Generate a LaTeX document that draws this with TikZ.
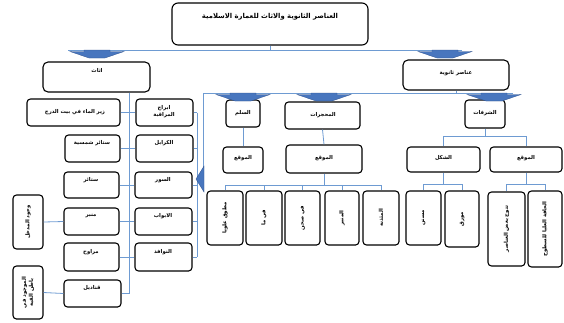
\documentclass[tikz,border=0pt]{standalone}
\usepackage{fontspec}
\newfontfamily\arfont[Script=Arabic]{DejaVu Sans}
\TeXXeTstate=1
\newcommand\AR[1]{\beginR #1\endR}
\definecolor{linec}{RGB}{110,155,210}
\definecolor{arrf}{RGB}{72,118,190}
\definecolor{arrd}{RGB}{45,80,140}
\tikzset{
 bx/.style={draw=black, line width=1.1pt, rounded corners=3.5pt, fill=white, inner sep=0pt},
 txt/.style={font=\arfont\bfseries\fontsize{5.3}{6.8}\selectfont, inner sep=0pt, align=center},
 con/.style={draw=linec, line width=0.8pt},
 arr/.style={fill=arrf, draw=arrd, line width=0.3pt},
}
\newcommand\DnArrow[2]{\begin{scope}[shift={(#1,#2)}]\filldraw[arr] (-13,0) -- (13,0) -- (13,1.5) -- (27,1.5) -- (8,8) -- (-8,8) -- (-27,1.5) -- (-13,1.5) -- cycle;\end{scope}}
\begin{document}
\begin{tikzpicture}[x=1pt,y=-1pt]
\useasboundingbox (0,0) rectangle (564,322);
% ---------- boxes ----------
\node[bx, minimum width=196pt, minimum height=42pt, rounded corners=6pt] (title) at (270,24) {};
\node[txt, font=\arfont\bfseries\fontsize{6.8}{8}\selectfont] (title-t) at (270,17) {\AR{العناصر الثانوية والاثاث للعمارة الاسلامية}};

\node[bx, minimum width=107pt, minimum height=30pt, rounded corners=5pt] (athath) at (96.5,77) {};
\node[txt] (athath-t) at (97,70) {\AR{اثاث}};
\node[bx, minimum width=106pt, minimum height=30pt, rounded corners=5pt] (anasir) at (456,75) {};
\node[txt] (anasir-t) at (456,73) {\AR{عناصر ثانوية}};

% left furniture column
\node[bx, minimum width=93pt, minimum height=27pt] (zir) at (73.5,112.5) {};
\node[txt] (zir-t) at (75,112) {\AR{زير الماء في بيت الدرج}};
\node[bx, minimum width=55pt, minimum height=27pt] (satsh) at (92.5,148.5) {};
\node[txt] (satsh-t) at (92,143) {\AR{ستائر شمسية}};
\node[bx, minimum width=55pt, minimum height=26pt] (satair) at (91.5,185) {};
\node[txt] (satair-t) at (91,180) {\AR{ستائر}};
\node[bx, minimum width=55pt, minimum height=27pt] (minbar) at (91.5,221.5) {};
\node[txt] (minbar-t) at (91,216) {\AR{منبر}};
\node[bx, minimum width=55pt, minimum height=28pt] (marawih) at (91.5,257) {};
\node[txt] (marawih-t) at (91,252) {\AR{مراوح}};
\node[bx, minimum width=57pt, minimum height=27pt] (qanadil) at (92.5,293.5) {};
\node[txt] (qanadil-t) at (92,288) {\AR{قناديل}};
\node[bx, minimum width=30pt, minimum height=54pt] (madkhal) at (28,222) {};
\node[txt, rotate=90] (madkhal-t) at (28,222) {\AR{وجود المدخل}};
\node[bx, minimum width=30pt, minimum height=53pt] (qubba) at (28,292.5) {};
\node[txt, rotate=90] (qubba-t) at (28,292.5) {\AR{الموجود في}\\\AR{باطن القبة}};

% middle column
\node[bx, minimum width=57pt, minimum height=27pt] (abraj) at (164.5,112.5) {};
\node[txt] (abraj-t) at (164,112) {\AR{ابراج}\\\AR{المراقبة}};
\node[bx, minimum width=57pt, minimum height=27pt] (karabil) at (164.5,148.5) {};
\node[txt] (karabil-t) at (164,143) {\AR{الكرابل}};
\node[bx, minimum width=57pt, minimum height=26pt] (sour) at (163.5,185) {};
\node[txt] (sour-t) at (163,180) {\AR{السور}};
\node[bx, minimum width=57pt, minimum height=27pt] (abwab) at (163.5,221.5) {};
\node[txt] (abwab-t) at (163,216) {\AR{الابواب}};
\node[bx, minimum width=57pt, minimum height=28pt] (nawafidh) at (163.5,257) {};
\node[txt] (nawafidh-t) at (163,252) {\AR{النوافذ}};

% right part
\node[bx, minimum width=34pt, minimum height=27pt] (sullam) at (243,113.5) {};
\node[txt] (sullam-t) at (243,113) {\AR{السلم}};
\node[bx, minimum width=75pt, minimum height=27pt] (mahjarat) at (322.5,115.5) {};
\node[txt] (mahjarat-t) at (323,115) {\AR{المحجرات}};
\node[bx, minimum width=40pt, minimum height=26pt] (mawqia) at (243,160) {};
\node[txt] (mawqia-t) at (243,158) {\AR{الموقع}};
\node[bx, minimum width=76pt, minimum height=28pt] (mawqib) at (324,159) {};
\node[txt] (mawqib-t) at (324,158) {\AR{الموقع}};

\node[bx, minimum width=36pt, minimum height=54pt] (v1) at (225,218) {};
\node[txt, rotate=90] (v1-t) at (225,218) {\AR{مطوق علويا}};
\node[bx, minimum width=36pt, minimum height=54pt] (v2) at (264,218) {};
\node[txt, rotate=90] (v2-t) at (264,218) {\AR{في ما}};
\node[bx, minimum width=35pt, minimum height=54pt] (v3) at (302.5,218) {};
\node[txt, rotate=90] (v3-t) at (302.5,218) {\AR{في صحن}};
\node[bx, minimum width=34pt, minimum height=54pt] (v4) at (342,218) {};
\node[txt, rotate=90] (v4-t) at (342,218) {\AR{المنبر}};
\node[bx, minimum width=36pt, minimum height=54pt] (v5) at (381,218) {};
\node[txt, rotate=90] (v5-t) at (381,218) {\AR{المئذنة}};

\node[bx, minimum width=40pt, minimum height=28pt] (shurufat) at (485,114) {};
\node[txt] (shurufat-t) at (485,113) {\AR{الشرفات}};
\node[bx, minimum width=73pt, minimum height=25pt] (shakl) at (443.5,159.5) {};
\node[txt] (shakl-t) at (443.5,158) {\AR{الشكل}};
\node[bx, minimum width=72pt, minimum height=25pt] (mawqic) at (526,159.5) {};
\node[txt] (mawqic-t) at (526,158) {\AR{الموقع}};
\node[bx, minimum width=35pt, minimum height=54pt] (musannan) at (423.5,218) {};
\node[txt, rotate=90] (musannan-t) at (423.5,218) {\AR{مسنن}};
\node[bx, minimum width=34pt, minimum height=56pt] (muwarraq) at (462,219) {};
\node[txt, rotate=90] (muwarraq-t) at (462,219) {\AR{مورق}};
\node[bx, minimum width=37pt, minimum height=74pt] (tatawwaj) at (506.5,229) {};
\node[txt, rotate=90] (tatawwaj-t) at (506.5,229) {\AR{تتوج بعض العناصر}};
\node[bx, minimum width=34pt, minimum height=76pt] (hafa) at (545,229) {};
\node[txt, rotate=90] (hafa-t) at (545,229) {\AR{الحافة العليا للسطوح}};

% ---------- connectors ----------
\coordinate (hL) at (68,50);
\coordinate (hR) at (462,50);
\draw[con] (title.south) -- (title.south |- hL);
\draw[con] (hL) -- (hR);

\coordinate (aBot) at (129,293.5);
\draw[con] (athath.south -| aBot) -- (aBot);
\draw[con] (zir.east) -- (abraj.west);
\draw[con] (satsh.east) -- (karabil.west);
\draw[con] (satair.east) -- (sour.west);
\draw[con] (minbar.east) -- (abwab.west);
\draw[con] (marawih.east) -- (nawafidh.west);
\draw[con] (qanadil.east) -- (aBot);
\draw[con] (madkhal.east) -- (minbar.west);
\draw[con] (qubba.east) -- (qanadil.west);

\coordinate (rT) at (197,112.5);
\coordinate (rB) at (197,257);
\draw[con] (rT) -- (rB);
\foreach \n in {abraj,karabil,sour,abwab,nawafidh} \draw[con] (\n.east) -- (\n.east -| rT);

\coordinate (mL) at (203,93);
\coordinate (mR) at (513,93);
\coordinate (mA) at (203,168);
\draw[con] (mL) -- (mR);
\draw[con] (mL) -- (mA);
\draw[con] (anasir.south) -- (anasir.south |- mL);

\draw[con] (sullam.south) -- (mawqia.north);
\draw[con] (mahjarat.south) -- (mawqib.north);
\coordinate (h5) at (0,185);
\draw[con] (mawqib.south) -- (mawqib.south |- h5);
\draw[con] (v1.north |- h5) -- (v5.north |- h5);
\foreach \n in {v1,v2,v3,v4,v5} \draw[con] (\n.north |- h5) -- (\n.north);

\coordinate (h3) at (0,136);
\draw[con] (shurufat.south) -- (shurufat.south |- h3);
\draw[con] (shakl.north |- h3) -- (mawqic.north |- h3);
\draw[con] (shakl.north |- h3) -- (shakl.north);
\draw[con] (mawqic.north |- h3) -- (mawqic.north);

\coordinate (h4) at (0,184);
\draw[con] (shakl.south) -- (shakl.south |- h4);
\draw[con] (musannan.north |- h4) -- (muwarraq.north |- h4);
\draw[con] (musannan.north |- h4) -- (musannan.north);
\draw[con] (muwarraq.north |- h4) -- (muwarraq.north);
\draw[con] (mawqic.south) -- (mawqic.south |- h4);
\draw[con] (tatawwaj.north |- h4) -- (hafa.north |- h4);
\draw[con] (tatawwaj.north |- h4) -- (tatawwaj.north);
\draw[con] (hafa.north |- h4) -- (hafa.north);

% ---------- block arrows ----------
\DnArrow{97}{50}
\DnArrow{445}{50}
\DnArrow{243}{93}
\DnArrow{324}{93}
\DnArrow{494}{93}
\filldraw[arr] (196,179) -- (204,166) -- (204,192) -- cycle;
\end{tikzpicture}
\end{document}
